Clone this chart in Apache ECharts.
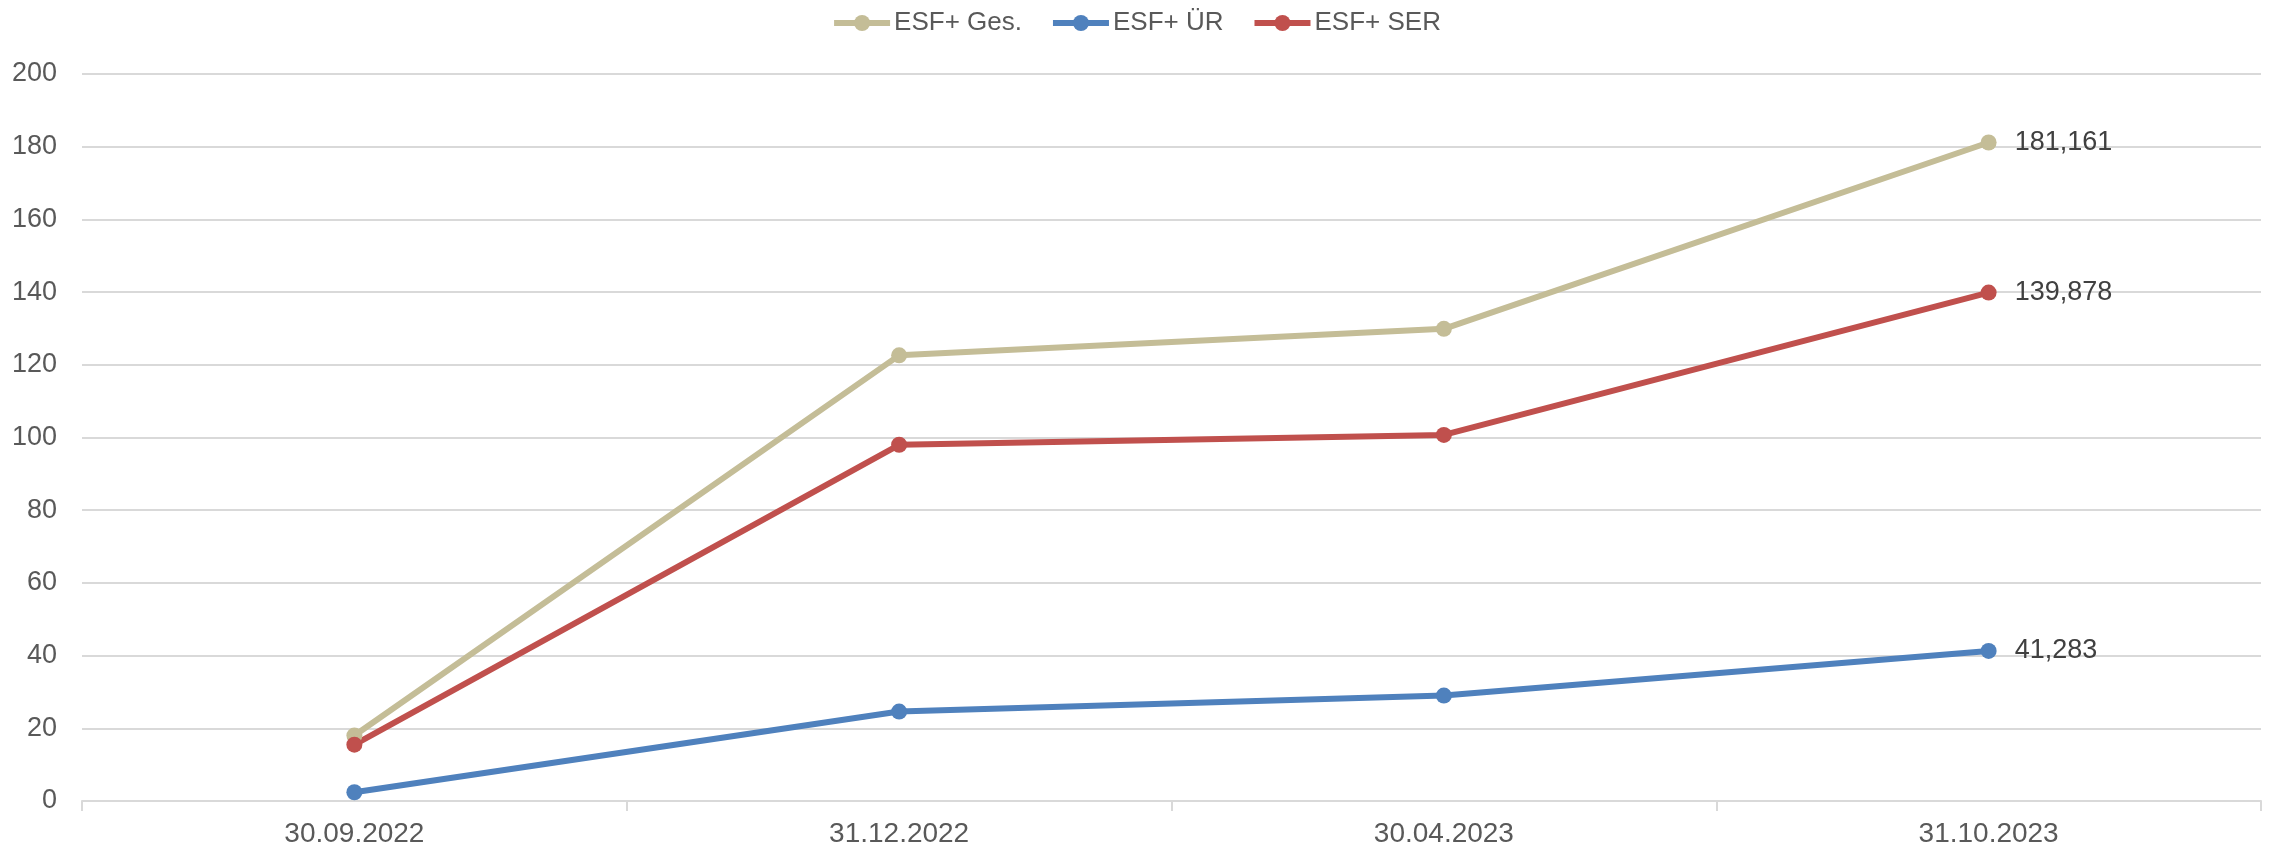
<!DOCTYPE html>
<html>
<head>
<meta charset="utf-8">
<script src="https://cdn.jsdelivr.net/npm/echarts@6/dist/echarts.min.js"></script>
<style>
  html, body { margin: 0; padding: 0; background: #fff; }
  #chart { width: 2272px; height: 849px; }
</style>
</head>
<body>
<div id="chart"></div>
<script>
// Stichtage
let dates = ['30.09.2022', '31.12.2022', '30.04.2023', '31.10.2023'];
// Werte je Reihe
let gesValues = [18, 122.6, 129.9, 181.161];
let uerValues = [2.4, 24.6, 29.0, 41.283];
let serValues = [15.5, 98.0, 100.7, 139.878];

let seriesNames = ['ESF+ Ges.', 'ESF+ ÜR', 'ESF+ SER'];
let seriesColors = ['#c4bd97', '#4f81bd', '#c0504d'];

function withLastLabel(values) {
  // nur der letzte Punkt bekommt eine Beschriftung
  return values.map(function (v, i) {
    if (i === values.length - 1) {
      return { value: v, label: { show: true } };
    }
    return v;
  });
}

let chartDom = document.getElementById('chart');
let myChart = echarts.init(chartDom);
let option;

let allValues = [gesValues, uerValues, serValues];

option = {
  animation: false,
  textStyle: { fontFamily: 'Liberation Sans, Arial, sans-serif' },
  legend: {
    top: 5,
    left: 'center',
    itemWidth: 56,
    itemHeight: 20,
    itemGap: 28,
    lineStyle: { width: 6 },
    textStyle: { fontSize: 26, color: '#595959', padding: [0, 0, 0, -1] },
    data: seriesNames
  },
  grid: {
    left: 82,
    right: 11,
    top: 74,
    bottom: 48
  },
  xAxis: {
    type: 'category',
    data: dates,
    axisLine: { lineStyle: { color: '#d9d9d9', width: 2 } },
    axisTick: { show: true, length: 10, lineStyle: { color: '#d9d9d9', width: 2 } },
    axisLabel: { fontSize: 28, color: '#595959', margin: 19 }
  },
  yAxis: {
    type: 'value',
    min: 0,
    max: 200,
    interval: 20,
    axisLine: { show: false },
    axisTick: { show: false },
    axisLabel: { fontSize: 27, color: '#595959', margin: 25 },
    splitLine: { lineStyle: { color: '#d9d9d9', width: 2 } }
  },
  series: seriesNames.map(function (name, idx) {
    return {
      name: name,
      type: 'line',
      data: withLastLabel(allValues[idx]),
      symbol: 'circle',
      symbolSize: 16,
      lineStyle: { width: 6, color: seriesColors[idx] },
      itemStyle: { color: seriesColors[idx] },
      label: {
        show: false,
        position: 'right',
        distance: 18,
        fontSize: 27,
        color: '#404040',
        formatter: function (p) {
          return p.value.toFixed(3).replace('.', ',');
        }
      }
    };
  })
};
option && myChart.setOption(option);
</script>
</body>
</html>
